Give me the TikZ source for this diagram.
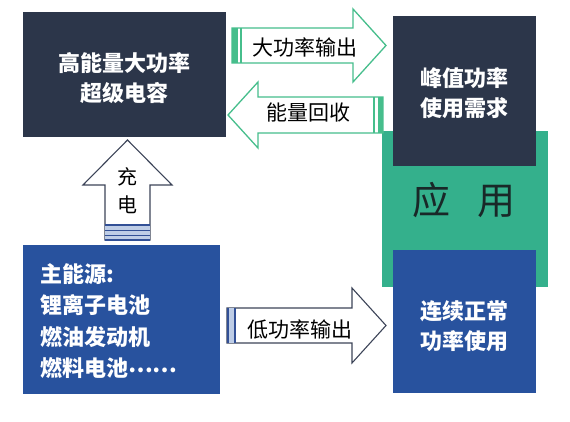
\documentclass[tikz,border=0pt]{standalone}
\usepackage{fontspec}
\setmainfont{Noto Sans CJK SC}
\definecolor{navy}{RGB}{44,54,74}
\definecolor{boxblue}{RGB}{40,82,158}
\definecolor{appgreen}{RGB}{52,176,140}
\definecolor{arrgreen}{RGB}{70,190,140}
\definecolor{arrgray}{RGB}{60,68,88}
\definecolor{stripeblue}{RGB}{50,80,150}
\definecolor{lightblue}{RGB}{190,205,230}
\definecolor{apptext}{RGB}{25,40,40}
\begin{document}
\begin{tikzpicture}[x=1pt,y=-1pt,
  box/.style={draw=none,inner sep=0pt},
  whitetext/.style={text=white,font=\fontsize{22}{30}\selectfont\bfseries,align=center,inner sep=0pt},
  arrtext/.style={text=black,font=\fontsize{21}{28}\selectfont,inner sep=0pt},
  greenarrow/.style={draw=arrgreen,line width=1.3pt,fill=white,line join=miter},
  grayarrow/.style={draw=arrgray,line width=1.1pt,fill=white,line join=miter}]
\useasboundingbox (0,0) rectangle (570,422);
\fill[white] (0,0) rectangle (570,422);
% application block
\node[box,fill=appgreen,minimum width=166pt,minimum height=156pt] (app) at (465,209) {};
\node[box,fill=navy,minimum width=143pt,minimum height=150pt] (peak) at (464.5,91) {};
\node[box,fill=boxblue,minimum width=143pt,minimum height=143pt] (normal) at (464.5,321.5) {};
\node[text=apptext,font=\fontsize{38}{40}\selectfont,inner sep=0pt] (applabel) at (464,200) {应\hspace{27pt}用};
\node[whitetext] (peaktext) at (464.5,93) {峰值功率\\使用需求};
\node[whitetext] (normaltext) at (464.5,326) {连续正常\\功率使用};
% supercapacitor
\node[box,fill=navy,minimum width=203pt,minimum height=125pt] (sc) at (124.5,74.5) {};
\node[whitetext] (sctext) at (124.5,78) {高能量大功率\\超级电容};
% main source
\node[box,fill=boxblue,minimum width=197pt,minimum height=149pt] (main) at (121.5,319.5) {};
\node[whitetext,align=left,anchor=west,font=\fontsize{22}{31.5}\selectfont\bfseries] (maintext) at (40,321) {主能源:\\锂离子电池\\燃油发动机\\燃料电池\raisebox{4pt}{……}};
% arrow: high power output
\draw[greenarrow] (232,28) -- (353,28) -- (353,9) -- (386,45.5) -- (353,82) -- (353,63) -- (232,63) -- cycle;
\fill[arrgreen] (232,28) rectangle (237.5,63);
\draw[arrgreen,line width=1.3pt] (241,28) -- (241,63);
\node[arrtext] (hp) at (305,47) {大功率输出};
% arrow: energy recovery
\draw[greenarrow] (383,97) -- (258,97) -- (258,82) -- (228,115) -- (258,148) -- (258,133) -- (383,133) -- cycle;
\fill[arrgreen] (377.5,97) rectangle (383,133);
\draw[arrgreen,line width=1.3pt] (374,97) -- (374,133);
\node[arrtext] (er) at (308,113) {能量回收};
% arrow: low power output
\draw[grayarrow] (227,308) -- (352,308) -- (352,288) -- (386,325.5) -- (352,363) -- (352,343) -- (227,343) -- cycle;
\fill[lightblue] (228,308) rectangle (235,343);
\draw[stripeblue,line width=1.3pt] (228,308) -- (228,343);
\draw[stripeblue,line width=1.3pt] (235,308) -- (235,343);
\node[arrtext] (lp) at (300,329) {低功率输出};
% arrow: charge
\draw[grayarrow] (105,240) -- (105,185) -- (83,185) -- (127.5,140) -- (172,185) -- (150,185) -- (150,240) -- cycle;
\fill[lightblue] (105,225) rectangle (150,240);
\foreach \yy in {225,230.5,235.5,240} \draw[stripeblue,line width=1.2pt] (105,\yy) -- (150,\yy);
\node[arrtext,align=center,font=\fontsize{20}{28}\selectfont] (ch) at (127.5,191) {充\\电};
\end{tikzpicture}
\end{document}
